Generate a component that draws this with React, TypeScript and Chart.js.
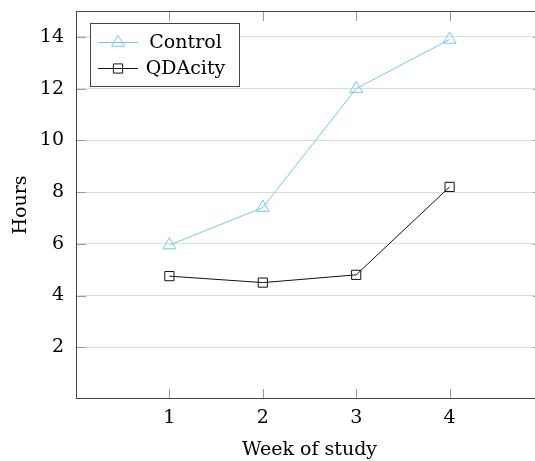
import React, { useEffect, useRef } from "react";
import { Chart, registerables } from "chart.js";

Chart.register(...registerables);

const weeks = [1, 2, 3, 4];
const controlHours = [5.95, 7.4, 12.0, 13.9];
const qdacityHours = [4.75, 4.5, 4.8, 8.2];
const xTickValues = [1, 2, 3, 4];
const yTickValues = [2, 4, 6, 8, 10, 12, 14];
const seriesLabels = ["Control", "QDAcity"];
const xTitle = "Week of study";
const yTitle = "Hours";

const FONT_FAMILY = "'DejaVu Serif', serif";
const FONT_SIZE = 19;
const CONTROL_COLOR = "#6ecde6";
const QDA_COLOR = "#111111";
const FRAME_COLOR = "#444444";
const TICK_COLOR = "#9a9a9a";
const GRID_COLOR = "#dcdcdc";
const TICK_LEN = 10;

const framePlugin = {
  id: "pgfFrame",
  beforeDatasetsDraw(chart: any) {
    const { ctx, chartArea, scales } = chart;
    const { left, top, right, bottom } = chartArea;
    const xs = scales.x;
    const ys = scales.y;
    ctx.save();
    ctx.lineWidth = 1;
    ctx.strokeStyle = TICK_COLOR;
    ctx.beginPath();
    for (const t of xs.ticks) {
      const px = Math.round(xs.getPixelForValue(t.value)) + 0.5;
      ctx.moveTo(px, top);
      ctx.lineTo(px, top + TICK_LEN);
      ctx.moveTo(px, bottom);
      ctx.lineTo(px, bottom - TICK_LEN);
    }
    for (const t of ys.ticks) {
      const py = Math.round(ys.getPixelForValue(t.value)) + 0.5;
      ctx.moveTo(left, py);
      ctx.lineTo(left + TICK_LEN, py);
      ctx.moveTo(right, py);
      ctx.lineTo(right - TICK_LEN, py);
    }
    ctx.stroke();
    ctx.strokeStyle = FRAME_COLOR;
    ctx.strokeRect(left + 0.5, top + 0.5, right - left - 1, bottom - top - 1);
    ctx.restore();
  },
};

function drawMarker(ctx: any, style: string, x: number, y: number, r: number) {
  ctx.beginPath();
  if (style === "triangle") {
    for (let i = 0; i < 3; i++) {
      const a = (i * 2 * Math.PI) / 3;
      const px = x + Math.sin(a) * r;
      const py = y - Math.cos(a) * r;
      if (i === 0) ctx.moveTo(px, py);
      else ctx.lineTo(px, py);
    }
    ctx.closePath();
  } else {
    const s = r * Math.SQRT1_2;
    ctx.rect(x - s, y - s, 2 * s, 2 * s);
  }
  ctx.stroke();
}

const legendPlugin = {
  id: "pgfLegend",
  afterDraw(chart: any) {
    const { ctx, chartArea } = chart;
    const bx = chartArea.left + 14;
    const by = chartArea.top + 12;
    const bw = 149;
    const bh = 63;
    ctx.save();
    ctx.fillStyle = "#ffffff";
    ctx.fillRect(bx, by, bw, bh);
    ctx.lineWidth = 1;
    ctx.strokeStyle = FRAME_COLOR;
    ctx.strokeRect(bx + 0.5, by + 0.5, bw, bh);
    const rowYs = [by + 19.5, by + 45.5];
    chart.data.datasets.forEach((ds: any, i: number) => {
      const ry = rowYs[i];
      ctx.strokeStyle = ds.borderColor;
      ctx.lineWidth = 1;
      ctx.beginPath();
      ctx.moveTo(bx + 8, ry);
      ctx.lineTo(bx + 48, ry);
      ctx.stroke();
      drawMarker(ctx, ds.pointStyle, bx + 28, ry, ds.pointRadius);
      ctx.fillStyle = "#000000";
      ctx.font = `${FONT_SIZE}px ${FONT_FAMILY}`;
      ctx.textAlign = "center";
      ctx.textBaseline = "alphabetic";
      ctx.fillText(ds.label, bx + 95.5, ry + 5);
    });
    ctx.restore();
  },
};

export default function App() {
  const canvasRef = useRef<HTMLCanvasElement | null>(null);

  useEffect(() => {
    if (!canvasRef.current) return;
    const font = { family: FONT_FAMILY, size: FONT_SIZE };
    const chart = new Chart(canvasRef.current, {
      type: "line",
      data: {
        datasets: [
          {
            label: seriesLabels[0],
            data: weeks.map((w, i) => ({ x: w, y: controlHours[i] })),
            borderColor: CONTROL_COLOR,
            backgroundColor: "rgba(0,0,0,0)",
            borderWidth: 1,
            pointStyle: "triangle",
            pointRadius: 7.5,
            pointBorderWidth: 1,
            pointBorderColor: CONTROL_COLOR,
            pointBackgroundColor: "rgba(0,0,0,0)",
            tension: 0,
          },
          {
            label: seriesLabels[1],
            data: weeks.map((w, i) => ({ x: w, y: qdacityHours[i] })),
            borderColor: QDA_COLOR,
            backgroundColor: "rgba(0,0,0,0)",
            borderWidth: 1,
            pointStyle: "rect",
            pointRadius: 6.5,
            pointBorderWidth: 1,
            pointBorderColor: QDA_COLOR,
            pointBackgroundColor: "rgba(0,0,0,0)",
            tension: 0,
          },
        ],
      },
      options: {
        animation: false,
        responsive: true,
        maintainAspectRatio: false,
        layout: { padding: { top: 11, right: 17, bottom: 0, left: 0 } },
        plugins: {
          legend: { display: false },
          title: { display: false },
          tooltip: { enabled: false },
        },
        scales: {
          x: {
            type: "linear",
            min: 0,
            max: 5,
            afterBuildTicks: (scale: any) => {
              scale.ticks = xTickValues.map((v) => ({ value: v }));
            },
            afterFit: (scale: any) => {
              scale.height = 62;
              scale.paddingLeft = 0;
              scale.paddingRight = 0;
              scale.paddingTop = 0;
              scale.paddingBottom = 0;
            },
            grid: { display: false, drawTicks: false },
            border: { display: false },
            ticks: {
              font,
              color: "#000000",
              padding: 8,
              maxRotation: 0,
              callback: (v: any) => String(v),
            },
            title: {
              display: true,
              text: xTitle,
              font,
              color: "#000000",
              padding: { top: 0, bottom: 0 },
            },
          },
          y: {
            type: "linear",
            min: 0,
            max: 15,
            afterBuildTicks: (scale: any) => {
              scale.ticks = yTickValues.map((v) => ({ value: v }));
            },
            afterFit: (scale: any) => {
              scale.width = 76;
              scale.paddingTop = 0;
              scale.paddingBottom = 0;
              scale.paddingLeft = 0;
              scale.paddingRight = 0;
            },
            grid: { color: GRID_COLOR, drawTicks: false, lineWidth: 1 },
            border: { display: false },
            ticks: {
              font,
              color: "#000000",
              padding: 12,
              callback: (v: any) => String(v),
            },
            title: {
              display: true,
              text: yTitle,
              font,
              color: "#000000",
              padding: { top: 10, bottom: 0 },
            },
          },
        },
      },
      plugins: [framePlugin, legendPlugin],
    } as any);
    return () => chart.destroy();
  }, []);

  return (
    <div
      style={{
        position: "fixed",
        left: 0,
        top: 0,
        width: 535,
        height: 461,
        overflow: "hidden",
        background: "#ffffff",
      }}
    >
      <div style={{ position: "relative", width: 560, height: 461 }}>
        <canvas ref={canvasRef} />
      </div>
    </div>
  );
}
